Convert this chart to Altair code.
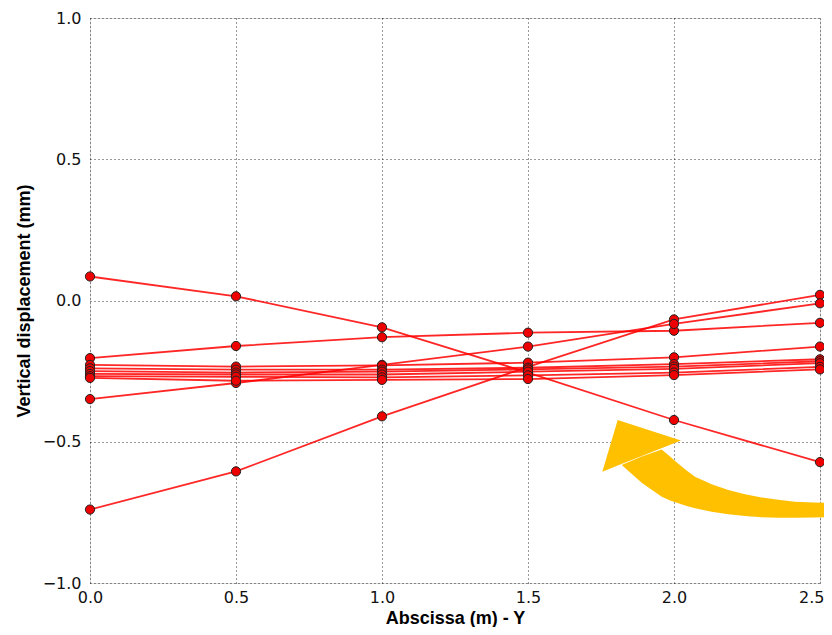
import altair as alt
import pandas as pd

# ---- data ----
x_vals = [0.0, 0.5, 1.0, 1.5, 2.0, 2.5]

s01 = [0.085, 0.015, -0.095, -0.255, -0.423, -0.572]
s02 = [-0.740, -0.605, -0.410, -0.235, -0.067, 0.020]
s03 = [-0.204, -0.161, -0.130, -0.114, -0.107, -0.079]
s04 = [-0.349, -0.292, -0.228, -0.163, -0.083, -0.010]
s05 = [-0.228, -0.234, -0.230, -0.220, -0.201, -0.163]
s06 = [-0.240, -0.245, -0.245, -0.238, -0.225, -0.208]
s07 = [-0.250, -0.255, -0.252, -0.244, -0.234, -0.215]
s08 = [-0.260, -0.262, -0.262, -0.252, -0.242, -0.222]
s09 = [-0.268, -0.270, -0.272, -0.265, -0.255, -0.235]
s10 = [-0.274, -0.284, -0.281, -0.278, -0.264, -0.244]
series = [s01, s02, s03, s04, s05, s06, s07, s08, s09, s10]

x_ticks = [0.0, 0.5, 1.0, 1.5, 2.0, 2.5]
y_ticks = [-1.0, -0.5, 0.0, 0.5, 1.0]

# annotation arrow (data units): head triangle and curved body
head_x = [1.7545, 1.8072, 2.0240]
head_top = [-0.606, -0.423, -0.496]
head_bot = [-0.606, -0.584, -0.496]

body_x = [1.8209, 1.8894, 1.9579, 1.9864, 2.0148, 2.0433, 2.0719, 2.1289, 2.1860,
          2.2431, 2.3003, 2.3573, 2.4144, 2.4777, 2.5411]
body_inner = [-0.582, -0.552, -0.527, -0.552, -0.578, -0.602, -0.624, -0.650, -0.671,
              -0.686, -0.697, -0.705, -0.712, -0.715, -0.716]
body_outer = [-0.582, -0.645, -0.695, -0.708, -0.718, -0.727, -0.735, -0.748, -0.757,
              -0.763, -0.767, -0.769, -0.769, -0.768, -0.766]

rows = []
for i, s in enumerate(series):
    for x, y in zip(x_vals, s):
        rows.append({"series": f"s{i+1:02d}", "x": x, "y": y})
df = pd.DataFrame(rows)

head_df = pd.DataFrame({"x": head_x, "y": head_top, "y2": head_bot})
body_df = pd.DataFrame({"x": body_x, "y": body_inner, "y2": body_outer})

xscale = alt.Scale(domain=[0, 2.5], nice=False, zero=False)
yscale = alt.Scale(domain=[-1, 1], nice=False, zero=False)

last_tick = "datum.value >= 2.5"
xaxis = alt.Axis(values=x_ticks, format=".1f", title="Abscissa (m) - Y",
                 labelFlush=False, labelOverlap=False, ticks=False, domain=False,
                 labelAlign=alt.condition(last_tick, alt.value("right"), alt.value("center")),
                 labelOffset=alt.condition(last_tick, alt.value(4), alt.value(0)),
                 grid=True, gridDash=[1, 3], gridColor="black", gridOpacity=0.8,
                 labelFont="DejaVu Sans", labelFontSize=16, labelColor="#111",
                 labelPadding=6,
                 titleFont="Liberation Sans", titleFontWeight="bold",
                 titleFontSize=18, titleColor="black", titlePadding=4)
yaxis = alt.Axis(values=y_ticks, format=".1f", title="Vertical displacement (mm)",
                 labelOverlap=False, ticks=False, domain=False,
                 grid=True, gridDash=[1, 3], gridColor="black", gridOpacity=0.8,
                 labelFont="DejaVu Sans", labelFontSize=16, labelColor="#111",
                 labelPadding=9,
                 titleFont="Liberation Sans", titleFontWeight="bold",
                 titleFontSize=18, titleColor="black", titlePadding=9)

lines = alt.Chart(df).mark_line(color="#ff0000", strokeWidth=1.8, opacity=0.85).encode(
    x=alt.X("x:Q", scale=xscale, axis=xaxis),
    y=alt.Y("y:Q", scale=yscale, axis=yaxis),
    detail="series:N",
)
points = alt.Chart(df).mark_point(filled=True, fill="#ee0000", stroke="#222",
                                  strokeWidth=1.0, opacity=1, size=85).encode(
    x=alt.X("x:Q", scale=xscale),
    y=alt.Y("y:Q", scale=yscale),
    detail="series:N",
)
body = alt.Chart(body_df).mark_area(color="#ffc000", opacity=1, clip=False).encode(
    x=alt.X("x:Q", scale=xscale),
    y=alt.Y("y:Q", scale=yscale),
    y2="y2:Q",
)
head = alt.Chart(head_df).mark_area(color="#ffc000", opacity=1, clip=False).encode(
    x=alt.X("x:Q", scale=xscale),
    y=alt.Y("y:Q", scale=yscale),
    y2="y2:Q",
)

chart = alt.layer(lines, points, body, head).properties(
    width=730, height=565,
    autosize=alt.AutoSizeParams(type="none"),
    padding={"left": 82, "top": 10, "right": 4, "bottom": 44},
).configure_view(stroke="black", strokeWidth=1.5).configure(background="white")

chart.save("out.html", embed_options={"renderer": "svg", "actions": False})
